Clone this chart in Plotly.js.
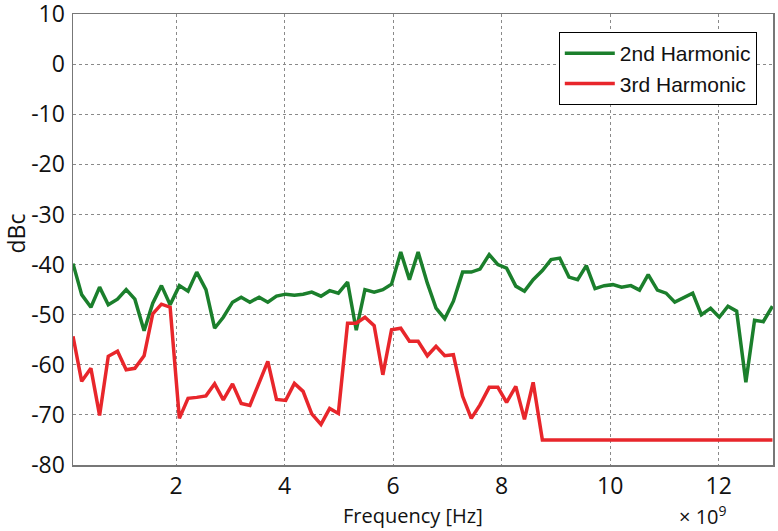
<!DOCTYPE html>
<html>
<head>
<meta charset="utf-8">
<script src="https://cdn.plot.ly/plotly-3.0.1.min.js"></script>
<style>
  html, body { margin: 0; padding: 0; background: #fff; }
  #chart { width: 778px; height: 531px; }
</style>
</head>
<body>
<div id="chart"></div>
<script>
// frequency points, in units of 1e9 Hz
const freq = [
  0.10, 0.26, 0.43, 0.59, 0.75, 0.92, 1.08, 1.24, 1.41, 1.57,
  1.73, 1.89, 2.06, 2.22, 2.38, 2.55, 2.71, 2.87, 3.04, 3.20,
  3.36, 3.53, 3.69, 3.85, 4.02, 4.18, 4.34, 4.50, 4.67, 4.83,
  4.99, 5.16, 5.32, 5.48, 5.65, 5.81, 5.97, 6.14, 6.30, 6.46,
  6.63, 6.79, 6.95, 7.11, 7.28, 7.44, 7.60, 7.77, 7.93, 8.09,
  8.26, 8.42, 8.58, 8.75, 8.91, 9.07, 9.24, 9.40, 9.56, 9.72,
  9.89, 10.05, 10.21, 10.38, 10.54, 10.70, 10.87, 11.03, 11.19, 11.36,
  11.52, 11.68, 11.85, 12.01, 12.17, 12.33, 12.50, 12.66, 12.82, 12.99
];

const harm2 = [
  -39.8, -46.0, -48.5, -44.5, -48.0, -46.9, -45.0, -46.9, -53.2, -47.7,
  -44.2, -48.0, -44.2, -45.3, -41.5, -45.0, -52.7, -50.5, -47.5, -46.5,
  -47.5, -46.5, -47.5, -46.3, -45.9, -46.1, -45.9, -45.5, -46.3, -45.2,
  -45.7, -43.5, -53.1, -45.0, -45.5, -45.0, -43.9, -37.5, -43.0, -37.5,
  -43.7, -48.7, -50.8, -47.3, -41.5, -41.5, -40.9, -38.0, -40.0, -40.7,
  -44.3, -45.3, -43.0, -41.2, -39.0, -38.7, -42.5, -43.0, -40.2, -44.8,
  -44.2, -44.0, -44.5, -44.2, -45.1, -42.0, -45.1, -45.7, -47.5, -46.5,
  -45.7, -50.0, -48.7, -50.5, -48.3, -49.3, -63.5, -51.1, -51.4, -48.3
];

const harm3 = [
  -54.3, -63.3, -60.7, -70.1, -58.3, -57.3, -61.0, -60.7, -58.2, -49.8,
  -47.9, -48.5, -70.7, -66.7, -66.5, -66.2, -63.8, -67.0, -63.8, -67.7,
  -68.1, -63.7, -59.3, -66.9, -67.1, -63.7, -65.3, -69.8, -71.9, -68.7,
  -69.7, -51.7, -51.7, -50.5, -52.2, -62.0, -53.0, -52.7, -55.3, -55.3,
  -58.2, -56.3, -58.2, -58.0, -66.3, -70.7, -68.0, -64.5, -64.5, -67.5,
  -64.3, -70.9, -63.5, -75.0, -75.0, -75.0, -75.0, -75.0, -75.0, -75.0,
  -75.0, -75.0, -75.0, -75.0, -75.0, -75.0, -75.0, -75.0, -75.0, -75.0,
  -75.0, -75.0, -75.0, -75.0, -75.0, -75.0, -75.0, -75.0, -75.0, -75.0
];

const xTicks = [2, 4, 6, 8, 10, 12];
const yTicks = [10, 0, -10, -20, -30, -40, -50, -60, -70, -80];

const font = 'Open Sans, Liberation Sans, sans-serif';

var traces = [
  {
    x: freq, y: harm2, mode: 'lines', name: '2nd Harmonic',
    line: { color: '#1b7f2c', width: 3.5 }
  },
  {
    x: freq, y: harm3, mode: 'lines', name: '3rd Harmonic',
    line: { color: '#e8262b', width: 3.5 }
  }
];

var layout = {
  width: 778, height: 531,
  margin: { l: 73, r: 5, t: 14, b: 66 },
  paper_bgcolor: '#fff', plot_bgcolor: '#fff',
  font: { family: font, size: 23, color: '#111' },
  showlegend: true,
  legend: {
    x: 0.694, y: 0.96, xanchor: 'left', yanchor: 'top',
    bgcolor: '#fff', bordercolor: '#000', borderwidth: 1,
    font: { family: 'Liberation Sans, Arial, sans-serif', size: 21, color: '#111' },
    itemwidth: 50, tracegroupgap: 0
  },
  xaxis: {
    range: [0.1, 13.0],
    tickvals: xTicks, ticktext: xTicks.map(String),
    showgrid: true, gridcolor: '#8a8a8a', griddash: 'dot', gridwidth: 1,
    showline: true, linecolor: '#777', linewidth: 1.5, mirror: true,
    zeroline: false, ticks: '', ticklabelstandoff: 0
  },
  yaxis: {
    range: [-80, 10.02],
    tickvals: yTicks, ticktext: yTicks.map(String),
    showgrid: true, gridcolor: '#8a8a8a', griddash: 'dot', gridwidth: 1,
    showline: true, linecolor: '#777', linewidth: 1.5, mirror: true,
    zeroline: false, ticks: '', ticklabelstandoff: 2,
    ticklabeloverflow: 'allow'
  },
  annotations: [
    {
      text: 'dBc', xref: 'paper', yref: 'paper', x: -0.081, y: 0.514,
      xanchor: 'center', yanchor: 'middle', textangle: -90, showarrow: false,
      font: { family: font, size: 23, color: '#111' }
    },
    {
      text: 'Frequency [Hz]', xref: 'paper', yref: 'paper', x: 0.486, y: -0.111,
      xanchor: 'center', yanchor: 'middle', showarrow: false,
      font: { family: font, size: 20, color: '#111' }
    },
    {
      text: '× 10<sup>9</sup>', xref: 'paper', yref: 'paper', x: 0.9, y: -0.111,
      xanchor: 'center', yanchor: 'middle', showarrow: false,
      font: { family: font, size: 20, color: '#111' }
    }
  ]
};

Plotly.newPlot('chart', traces, layout, { displayModeBar: false, staticPlot: true });
</script>
</body>
</html>
